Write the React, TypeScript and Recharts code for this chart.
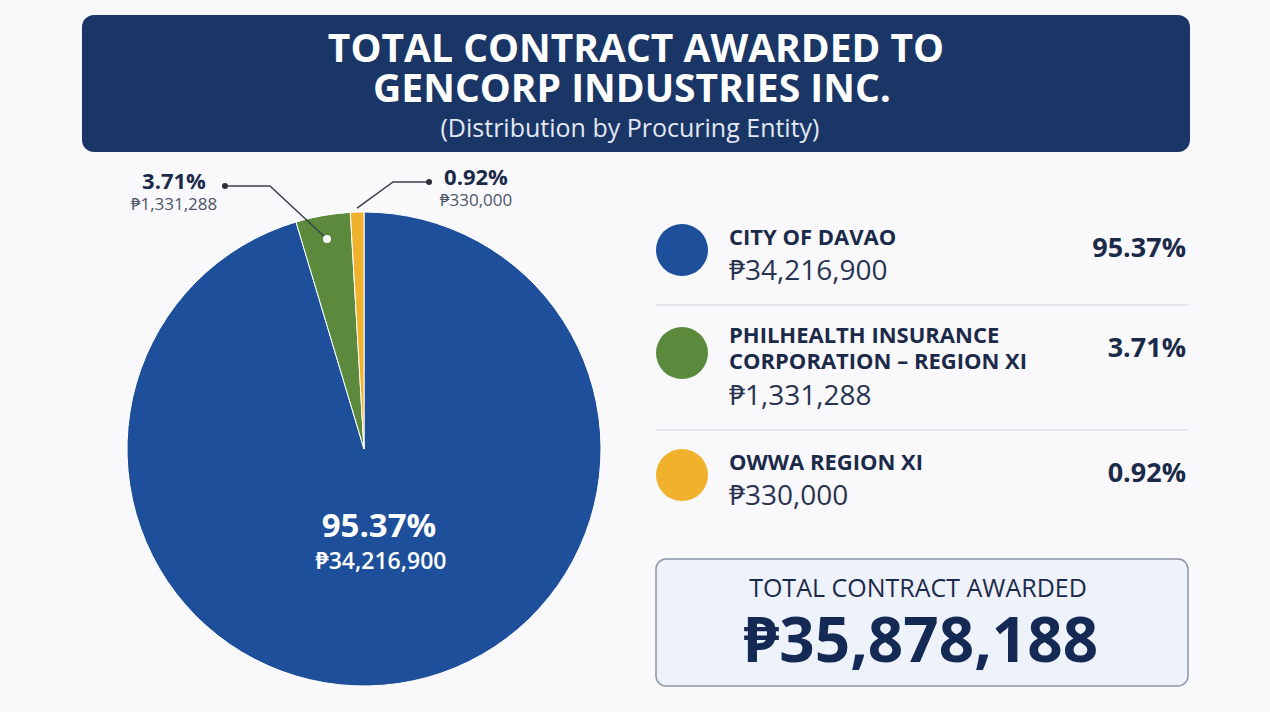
import React from 'react'
import { PieChart, Pie, Cell } from 'recharts'

const entityLines = [['CITY OF DAVAO'], ['PHILHEALTH INSURANCE', 'CORPORATION – REGION XI'], ['OWWA REGION XI']]
const amounts = [34216900, 1331288, 330000]
const shares = [95.37, 3.71, 0.92]
const colors = ['#1e4f9b', '#5b8a3c', '#f0b12c']
const totalAmount = 35878188

const titleLines = ['TOTAL CONTRACT AWARDED TO', 'GENCORP INDUSTRIES INC.']
const subtitle = '(Distribution by Procuring Entity)'
const totalLabel = 'TOTAL CONTRACT AWARDED'

const data = entityLines.map((lines, i) => ({ name: lines.join(' '), value: amounts[i], share: shares[i] }))

const FONT = "'Open Sans', 'Noto Sans', sans-serif"
const DARK = '#1c2a4a'
const RADIAN = Math.PI / 180

const peso = (n: number) => '₱' + n.toLocaleString('en-US')
const pct = (n: number) => n.toFixed(2) + '%'

function polar(cx: number, cy: number, r: number, angle: number) {
  return { x: cx + r * Math.cos(-angle * RADIAN), y: cy + r * Math.sin(-angle * RADIAN) }
}

function renderLabel(props: any) {
  const { cx, cy, midAngle, outerRadius, index } = props
  const d = data[index]
  if (index === 0) {
    return (
      <g fontFamily={FONT}>
        <text x={cx + 15} y={cy + 88} textAnchor="middle" fill="#fff" fontSize={33} fontWeight={700}>{pct(d.share)}</text>
        <text x={cx + 17} y={cy + 120} textAnchor="middle" fill="#fff" fontSize={23} fontWeight={600}>{peso(d.value)}</text>
      </g>
    )
  }
  if (index === 1) {
    const p = polar(cx, cy, outerRadius * 0.9, midAngle)
    const elbow = { x: p.x - 57, y: cy - outerRadius - 26 }
    const end = { x: elbow.x - 45, y: elbow.y }
    return (
      <g fontFamily={FONT}>
        <polyline points={`${p.x},${p.y} ${elbow.x},${elbow.y} ${end.x},${end.y}`} fill="none" stroke="#3a3f4a" strokeWidth={1.5} />
        <circle cx={p.x} cy={p.y} r={4} fill="#fff" />
        <circle cx={end.x} cy={end.y} r={3} fill="#2a2f3a" />
        <text x={end.x - 51} y={end.y + 3} textAnchor="middle" fill={DARK} fontSize={22} fontWeight={700}>{pct(d.share)}</text>
        <text x={end.x - 51} y={end.y + 24} textAnchor="middle" fill="#4e5566" fontSize={17}>{peso(d.value)}</text>
      </g>
    )
  }
  const p = polar(cx, cy, outerRadius + 4, midAngle)
  const elbow = { x: p.x + 36, y: cy - outerRadius - 30 }
  const end = { x: elbow.x + 36, y: elbow.y }
  return (
    <g fontFamily={FONT}>
      <polyline points={`${p.x},${p.y} ${elbow.x},${elbow.y} ${end.x},${end.y}`} fill="none" stroke="#3a3f4a" strokeWidth={1.5} />
      <circle cx={end.x} cy={end.y} r={3} fill="#2a2f3a" />
      <text x={end.x + 47} y={end.y + 3} textAnchor="middle" fill={DARK} fontSize={22} fontWeight={700}>{pct(d.share)}</text>
      <text x={end.x + 47} y={end.y + 24} textAnchor="middle" fill="#4e5566" fontSize={17}>{peso(d.value)}</text>
    </g>
  )
}

// legend row layout (y of circle centre, label baselines, amount baseline, percent baseline)
const rows = [
  { cy: 250, labelY: [245], amountY: 280, pctY: 257 },
  { cy: 353, labelY: [343, 369], amountY: 405, pctY: 357 },
  { cy: 475, labelY: [470], amountY: 505, pctY: 482 },
]
const separators = [305, 430]

export default function App() {
  return (
    <div style={{ position: 'absolute', left: 0, top: 0, width: 1270, height: 712, background: '#f9f9fb', fontFamily: FONT, overflow: 'hidden' }}>
      <svg width={1270} height={712} style={{ position: 'absolute', left: 0, top: 0 }} fontFamily={FONT}>
        <rect x={82} y={15} width={1108} height={137} rx={12} fill="#1a3666" />
        <text x={636} y={62} textAnchor="middle" fill="#fff" fontSize={39} fontWeight={700}>{titleLines[0]}</text>
        <text x={632} y={102} textAnchor="middle" fill="#fff" fontSize={39} fontWeight={700}>{titleLines[1]}</text>
        <text x={630} y={137} textAnchor="middle" fill="#e3e8f2" fontSize={25}>{subtitle}</text>

        {rows.map((r, i) => (
          <g key={i}>
            <circle cx={682} cy={r.cy} r={26} fill={colors[i]} />
            {entityLines[i].map((line, j) => (
              <text key={j} x={729} y={r.labelY[j]} fill={DARK} fontSize={22} fontWeight={700}>{line}</text>
            ))}
            <text x={729} y={r.amountY} fill="#2a3450" fontSize={28}>{peso(amounts[i])}</text>
            <text x={1186} y={r.pctY} textAnchor="end" fill={DARK} fontSize={27} fontWeight={700}>{pct(shares[i])}</text>
          </g>
        ))}
        {separators.map((y) => (
          <line key={y} x1={656} x2={1188} y1={y} y2={y} stroke="#dcdfe6" strokeWidth={1.5} />
        ))}

        <rect x={656} y={559} width={532} height={127} rx={10} fill="#eef2fb" stroke="#8c94a6" strokeWidth={1.5} />
        <text x={918} y={597} textAnchor="middle" fill={DARK} fontSize={25} fontWeight={500}>{totalLabel}</text>
        <text x={921} y={662} textAnchor="middle" fill="#142a55" fontSize={62} fontWeight={700}>{peso(totalAmount)}</text>
      </svg>

      <div style={{ position: 'absolute', left: 0, top: 0 }}>
        <PieChart width={640} height={712} margin={{ top: 0, right: 0, bottom: 0, left: 0 }}>
          <Pie
            data={data}
            dataKey="value"
            nameKey="name"
            cx={364}
            cy={449}
            outerRadius={237}
            startAngle={90}
            endAngle={-270}
            stroke="#ffffff"
            strokeWidth={1}
            label={renderLabel}
            labelLine={false}
            isAnimationActive={false}
          >
            {data.map((d, i) => (
              <Cell key={d.name} fill={colors[i]} />
            ))}
          </Pie>
        </PieChart>
      </div>
    </div>
  )
}
